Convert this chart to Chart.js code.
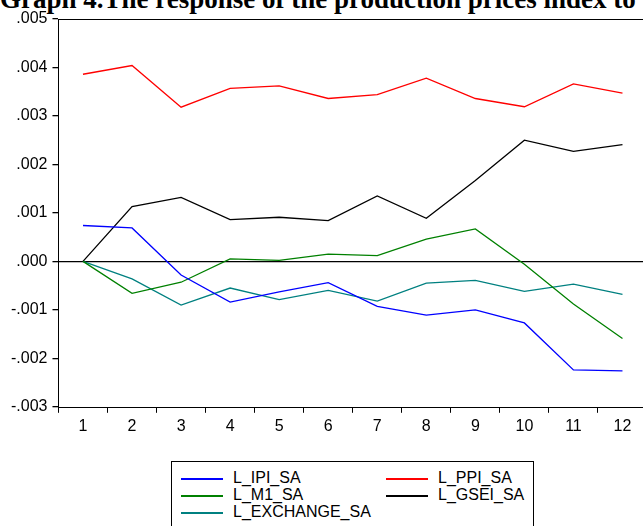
<!DOCTYPE html>
<html>
<head>
<meta charset="utf-8">
<script src="https://cdn.jsdelivr.net/npm/chart.js@4/dist/chart.umd.min.js"></script>
<style>
  html, body { margin: 0; padding: 0; background: #fff; overflow: hidden; width: 643px; height: 526px; }
  #title { position: absolute; left: 0; top: -14px; font: bold 27px "Liberation Serif", serif; line-height: 27px; white-space: nowrap; color: #000; }
  #wrap { position: absolute; left: 0; top: 0; width: 660px; height: 444px; }
  #legend { position: absolute; left: 171px; top: 461px; width: 363px; height: 90px; border: 1px solid #000; box-sizing: border-box; }
  .item { position: absolute; height: 17px; font: 16px "Liberation Sans", Arial, sans-serif; line-height: 17px; white-space: nowrap; }
  .item span.ln { display: inline-block; width: 42px; height: 0; border-top: 2px solid; vertical-align: middle; margin-right: 10px; }
</style>
</head>
<body>
<div id="title">Graph 4.The response of the production prices index to</div>
<div id="wrap"><canvas id="irf"></canvas></div>
<div id="legend"></div>
<script>
// periods on the x axis
const periods = ['1', '2', '3', '4', '5', '6', '7', '8', '9', '10', '11', '12'];

// responses
const ipiSA = [0.00074, 0.00069, -0.00028, -0.00084, -0.00063, -0.00044, -0.00093, -0.00111, -0.00100, -0.00127, -0.00224, -0.00226];
const ppiSA = [0.00386, 0.00404, 0.00318, 0.00357, 0.00362, 0.00336, 0.00344, 0.00378, 0.00336, 0.00319, 0.00366, 0.00347];
const m1SA = [0, -0.00066, -0.00043, 0.00005, 0.00002, 0.00015, 0.00012, 0.00046, 0.00067, -0.00006, -0.00088, -0.00159];
const gseiSA = [0, 0.00113, 0.00132, 0.00086, 0.00091, 0.00084, 0.00135, 0.00089, 0.00167, 0.00250, 0.00227, 0.00241];
const exchangeSA = [0, -0.00036, -0.00090, -0.00055, -0.00079, -0.00060, -0.00082, -0.00045, -0.00039, -0.00062, -0.00047, -0.00068];

const seriesNames = ['L_IPI_SA', 'L_PPI_SA', 'L_M1_SA', 'L_GSEI_SA', 'L_EXCHANGE_SA'];
const seriesColors = ['#0000ff', '#ff0000', '#008000', '#000000', '#008080'];

const yMin = -0.003, yMax = 0.005, yStep = 0.001;

const fmtTick = (v) => {
    const s = Math.abs(v).toFixed(3).replace(/^0/, '');
    return (v < -1e-9 ? '-' : '') + s;
};

// frame round the plot area
const boxPlugin = {
    id: 'box',
    afterDraw(chart) {
        const a = chart.chartArea, ctx = chart.ctx;
        ctx.save();
        ctx.strokeStyle = '#000';
        ctx.lineWidth = 1;
        ctx.strokeRect(Math.round(a.left) + 0.5, Math.round(a.top) + 0.5, Math.round(a.right - a.left), Math.round(a.bottom - a.top));
        ctx.restore();
    }
};

const data = [ipiSA, ppiSA, m1SA, gseiSA, exchangeSA];

const chart = new Chart(document.getElementById('irf'), {
    type: 'line',
    data: {
        labels: periods,
        datasets: data.map((d, i) => ({
            label: seriesNames[i],
            data: d,
            borderColor: seriesColors[i],
            backgroundColor: seriesColors[i],
            borderWidth: 1.3,
            pointRadius: 0,
            tension: 0,
            fill: false
        }))
    },
    options: {
        responsive: true,
        maintainAspectRatio: false,
        animation: false,
        layout: { padding: { top: 19, left: 6, right: 13, bottom: 4 } },
        plugins: {
            legend: { display: false },
            tooltip: { enabled: false }
        },
        scales: {
            x: {
                offset: true,
                border: { display: false },
                grid: {
                    offset: true,
                    drawOnChartArea: false,
                    tickLength: 6,
                    tickColor: '#000'
                },
                ticks: {
                    color: '#000',
                    padding: 4,
                    maxRotation: 0,
                    font: { family: '"Liberation Sans", Arial, sans-serif', size: 16 }
                }
            },
            y: {
                min: yMin,
                max: yMax,
                border: { display: false },
                grid: {
                    tickLength: 6,
                    tickColor: '#000',
                    lineWidth: 1.3,
                    color: (c) => (c.tick && Math.abs(c.tick.value) < 1e-9 ? '#000' : 'rgba(0,0,0,0)')
                },
                ticks: {
                    stepSize: yStep,
                    color: '#000',
                    padding: 5,
                    callback: fmtTick,
                    font: { family: '"Liberation Sans", Arial, sans-serif', size: 16 }
                }
            }
        }
    },
    plugins: [boxPlugin]
});

// legend in two columns, built from the datasets
const legendBox = document.getElementById('legend');
chart.data.datasets.forEach((ds, i) => {
    const el = document.createElement('div');
    el.className = 'item';
    el.style.left = (i % 2 === 0 ? 9 : 214) + 'px';
    el.style.top = (7 + Math.floor(i / 2) * 17) + 'px';
    const ln = document.createElement('span');
    ln.className = 'ln';
    ln.style.borderTopColor = seriesColors[i];
    el.appendChild(ln);
    el.appendChild(document.createTextNode(ds.label));
    legendBox.appendChild(el);
});
</script>
</body>
</html>
